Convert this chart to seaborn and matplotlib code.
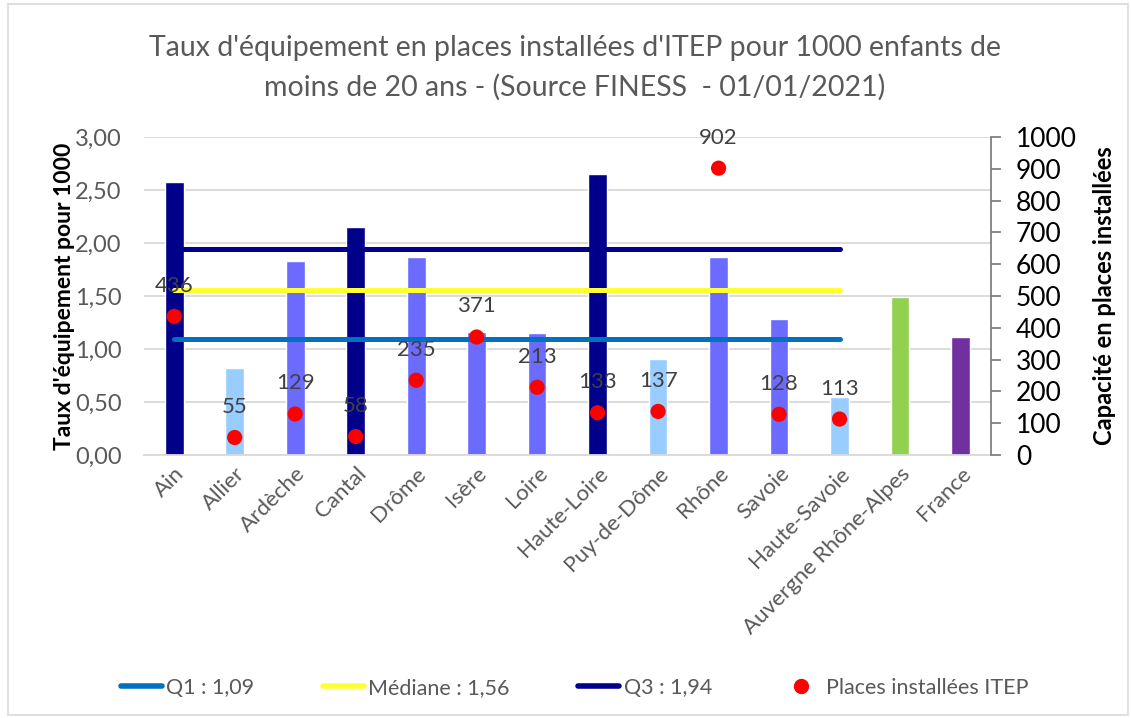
import matplotlib
matplotlib.use("Agg")
import matplotlib.pyplot as plt
from matplotlib.lines import Line2D
from matplotlib.patches import Rectangle
import seaborn as sns
import numpy as np
import pandas as pd

# ---------------------------------------------------------------------------
# data
# ---------------------------------------------------------------------------
categories = ['Ain', 'Allier', 'Ardèche', 'Cantal', 'Drôme', 'Isère', 'Loire',
              'Haute-Loire', 'Puy-de-Dôme', 'Rhône', 'Savoie', 'Haute-Savoie',
              'Auvergne Rhône-Alpes', 'France']
taux = [2.58, 0.82, 1.83, 2.15, 1.87, 1.16, 1.15, 2.65, 0.91, 1.87, 1.28, 0.55,
        1.49, 1.11]
places = [436, 55, 129, 58, 235, 371, 213, 133, 137, 902, 128, 113]
q1, mediane, q3 = 1.09, 1.56, 1.94

colors = ['#00008B', '#99CCFF', '#6B6BFF', '#00008B', '#6B6BFF', '#6B6BFF',
          '#6B6BFF', '#00008B', '#99CCFF', '#6B6BFF', '#6B6BFF', '#99CCFF',
          '#92D050', '#7030A0']

df = pd.DataFrame({'cat': categories, 'taux': taux})
df_pts = pd.DataFrame({'pos': np.arange(len(places)), 'places': places})

# ---------------------------------------------------------------------------
# plot
# ---------------------------------------------------------------------------
sns.set_style("white")
plt.rcParams['font.family'] = ['Lato', 'DejaVu Sans']

GREY = '#595959'
GRID = '#D9D9D9'

fig = plt.figure(figsize=(11.31, 7.18), dpi=100)
ax = fig.add_axes([0.1273, 0.3663, 0.876 - 0.1273, 0.8092 - 0.3663])

sns.barplot(data=df, x='cat', y='taux', hue='cat', palette=colors,
            saturation=1, width=0.31, legend=False, ax=ax, zorder=2)

ax.set_ylim(0, 3)
ax.set_yticks(np.arange(0, 3.01, 0.5))
ax.set_yticklabels([f"{v:.2f}".replace('.', ',') for v in np.arange(0, 3.01, 0.5)],
                   color=GREY, fontsize=17)
ax.set_xlim(-0.5, len(categories) - 0.5)
ax.yaxis.grid(True, color=GRID, linewidth=1.3, zorder=0)
ax.set_axisbelow(True)
for s in ['top', 'right', 'left']:
    ax.spines[s].set_visible(False)
ax.spines['bottom'].set_color(GRID)
ax.spines['bottom'].set_linewidth(1.3)
ax.tick_params(axis='both', length=0)
ax.tick_params(axis='y', pad=16)
ax.tick_params(axis='x', pad=6)
ax.set_xlabel('')
ax.set_ylabel("Taux d'équipement pour 1000", fontsize=16.5, fontweight='bold',
              color='black', labelpad=0)
ax.set_xticks(range(len(categories)))
ax.set_xticklabels(categories, rotation=45, ha='right', rotation_mode='anchor',
                   color=GREY, fontsize=16)

# quartile lines
n_dep = len(places)
ax.hlines(q1, 0, n_dep - 1, color='#0070C0', linewidth=3.6, zorder=3,
          capstyle='round')
ax.hlines(mediane, 0, n_dep - 1, color='#FFFF33', linewidth=3.6, zorder=3,
          capstyle='round')
ax.hlines(q3, 0, n_dep - 1, color='#00008B', linewidth=3.6, zorder=3,
          capstyle='round')

# secondary axis: places installées
ax2 = ax.twinx()
sns.scatterplot(data=df_pts, x='pos', y='places', color='#FF0000', s=120,
                edgecolor='none', ax=ax2, zorder=4)
ax2.set_ylim(0, 1000)
ax2.set_yticks(range(0, 1001, 100))
ax2.tick_params(axis='y', labelsize=19, labelcolor='black', direction='out',
                length=7, color='#808080', width=1.3, pad=11)
for s in ['top', 'left', 'bottom']:
    ax2.spines[s].set_visible(False)
ax2.spines['right'].set_color('#808080')
ax2.spines['right'].set_linewidth(1.3)
ax2.set_xlim(-0.5, len(categories) - 0.5)
ax2.set_xlabel('')
ax2.set_ylabel('Capacité en places installées', fontsize=17,
               fontweight='bold', color='black', labelpad=12)

for i, v in enumerate(places):
    ax2.annotate(str(v), (i, v), xytext=(0, 22), textcoords='offset points',
                 ha='center', va='center', fontsize=16, color='#404040',
                 zorder=5)

# title
fig.text(0.508, 0.933, "Taux d'équipement en places installées d'ITEP pour 1000 enfants de",
         ha='center', va='center', fontsize=20.5, color=GREY)
fig.text(0.508, 0.879, "moins de 20 ans - (Source FINESS  - 01/01/2021)",
         ha='center', va='center', fontsize=20.5, color=GREY)

# legend
handles = [
    Line2D([], [], color='#0070C0', linewidth=4, solid_capstyle='round'),
    Line2D([], [], color='#FFFF33', linewidth=4, solid_capstyle='round'),
    Line2D([], [], color='#00008B', linewidth=4, solid_capstyle='round'),
    Line2D([], [], color='#FF0000', marker='o', linestyle='none', markersize=10),
]
labels = ['Q1 : 1,09', 'Médiane : 1,56', 'Q3 : 1,94', 'Places installées ITEP']
leg = fig.legend(handles, labels, loc='center', bbox_to_anchor=(0.508, 0.042),
                 ncol=4, frameon=False, fontsize=15.5, handlelength=1.9,
                 handletextpad=0.2, columnspacing=3.2)
for t in leg.get_texts():
    t.set_color(GREY)

# chart border
fig.patches.append(Rectangle((0.007, 0.004), 0.99, 0.99, transform=fig.transFigure,
                             fill=False, edgecolor='#D9D9D9', linewidth=1.2))

fig.savefig('out.png', dpi=100)
